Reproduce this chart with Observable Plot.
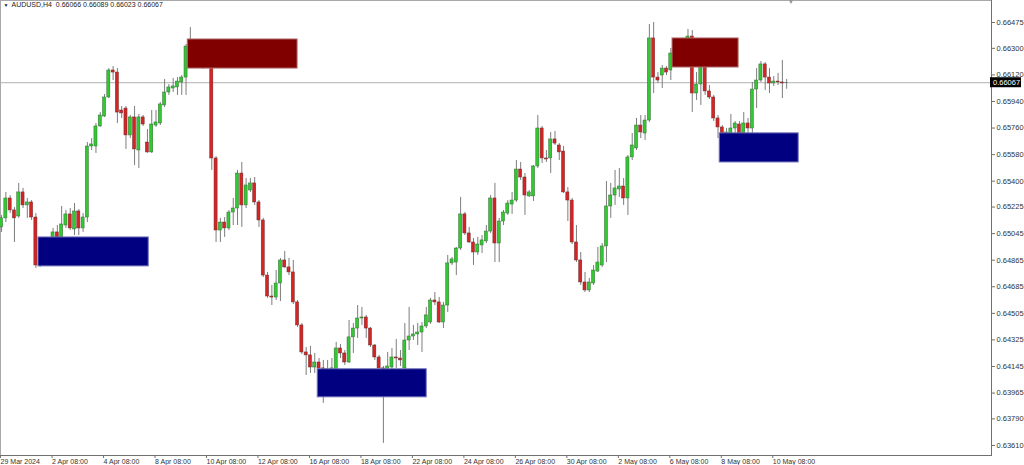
<!DOCTYPE html>
<html><head><meta charset="utf-8">
<script src="https://cdn.jsdelivr.net/npm/d3@7"></script>
<script src="https://cdn.jsdelivr.net/npm/@observablehq/plot@0.6"></script>
<style>body{margin:0;background:#fff;} svg{display:block}</style>
</head><body><div id="chart"></div>
<script>
const symbolTitle = "AUDUSD,H4  0.66066 0.66089 0.66023 0.66067";
const open = [0.65087,0.65148,0.65283,0.65202,0.65161,0.65324,0.65236,0.65256,0.65154,0.64829,
0.64897,0.64944,0.64999,0.65053,0.65019,0.65100,0.65175,0.65073,0.65195,0.65080,
0.65154,0.65635,0.65635,0.65771,0.65838,0.65967,0.66150,0.66136,0.65879,0.65892,
0.65710,0.65832,0.65608,0.65832,0.65662,0.65595,0.65777,0.65791,0.65913,0.66001,
0.66028,0.66035,0.66069,0.66102,0.66312,0.66251,0.66299,0.66272,0.66231,0.66218,
0.65554,0.65066,0.65120,0.65080,0.65188,0.65215,0.65452,0.65236,0.65337,0.65385,
0.65256,0.65134,0.64761,0.64619,0.64612,0.64707,0.64863,0.64816,0.64782,0.64579,
0.64423,0.64240,0.64220,0.64138,0.64172,0.64132,0.64104,0.64104,0.64118,0.64267,
0.64233,0.64172,0.64342,0.64402,0.64470,0.64477,0.64402,0.64287,0.64206,0.64132,
0.64104,0.64138,0.64206,0.64199,0.64132,0.64321,0.64348,0.64362,0.64375,0.64416,
0.64443,0.64592,0.64579,0.64443,0.64558,0.64843,0.64849,0.64944,0.65175,0.65046,
0.64985,0.64917,0.64965,0.64992,0.65059,0.65283,0.64978,0.65127,0.65181,0.65242,
0.65269,0.65479,0.65425,0.65297,0.65297,0.65500,0.65757,0.65554,0.65554,0.65683,
0.65642,0.65601,0.65324,0.65269,0.64985,0.64863,0.64714,0.64660,0.64707,0.64788,
0.64829,0.64958,0.65229,0.65303,0.65344,0.65364,0.65283,0.65561,0.65622,0.65777,
0.65723,0.65811,0.66367,0.66102,0.66116,0.66163,0.66150,0.66265,0.66299,0.66319,
0.66340,0.66380,0.65994,0.66055,0.66184,0.66008,0.65967,0.65825,0.65764,0.65723,
0.65723,0.65757,0.65784,0.65723,0.65791,0.65757,0.66021,0.66082,0.66191,0.66102,
0.66062,0.66075,0.66069,0.66066];
const high = [0.65168,0.65324,0.65303,0.65222,0.65385,0.65351,0.65283,0.65269,0.65181,0.64931,
0.64965,0.65012,0.65080,0.65100,0.65229,0.65202,0.65215,0.65249,0.65208,0.65181,
0.65662,0.65689,0.65791,0.65865,0.65987,0.66163,0.66177,0.66163,0.65906,0.65906,
0.65845,0.65906,0.65852,0.65845,0.65750,0.65879,0.65879,0.65933,0.66089,0.66055,
0.66096,0.66102,0.66116,0.66326,0.66441,0.66353,0.66340,0.66319,0.66285,0.66251,
0.65567,0.65148,0.65154,0.65202,0.65283,0.65473,0.65527,0.65418,0.65418,0.65425,
0.65269,0.65148,0.64782,0.64694,0.64795,0.64877,0.64924,0.64877,0.64863,0.64592,
0.64436,0.64274,0.64281,0.64233,0.64199,0.64186,0.64186,0.64199,0.64308,0.64294,
0.64253,0.64457,0.64436,0.64558,0.64545,0.64491,0.64409,0.64294,0.64220,0.64145,
0.64240,0.64267,0.64328,0.64253,0.64436,0.64545,0.64423,0.64436,0.64443,0.64545,
0.64606,0.64646,0.64612,0.64579,0.64897,0.64883,0.64951,0.65290,0.65188,0.65087,
0.65012,0.65019,0.65032,0.65100,0.65303,0.65385,0.65148,0.65202,0.65269,0.65324,
0.65540,0.65527,0.65452,0.65337,0.65506,0.65845,0.65771,0.65608,0.65730,0.65737,
0.65655,0.65635,0.65357,0.65283,0.65100,0.64917,0.64782,0.64741,0.64829,0.64951,
0.64978,0.65398,0.65385,0.65473,0.65486,0.65418,0.65574,0.65723,0.65825,0.65845,
0.65845,0.66461,0.66475,0.66136,0.66184,0.66177,0.66299,0.66353,0.66353,0.66367,
0.66428,0.66421,0.66136,0.66218,0.66204,0.66048,0.65981,0.65845,0.65777,0.65757,
0.65852,0.65804,0.65804,0.65865,0.65825,0.66069,0.66163,0.66211,0.66204,0.66163,
0.66109,0.66130,0.66218,0.66089];
const low = [0.65053,0.65120,0.65181,0.64985,0.65148,0.65215,0.65148,0.65134,0.64809,0.64816,
0.64849,0.64897,0.64992,0.64999,0.65005,0.65080,0.65066,0.65032,0.65032,0.65053,
0.65120,0.65608,0.65588,0.65764,0.65832,0.65960,0.66082,0.65791,0.65825,0.65615,
0.65689,0.65506,0.65486,0.65771,0.65588,0.65588,0.65764,0.65777,0.65899,0.65981,
0.66001,0.65981,0.65981,0.65981,0.66163,0.66177,0.66170,0.66157,0.66163,0.65473,
0.64985,0.64985,0.65019,0.65066,0.65100,0.65100,0.65087,0.65215,0.65324,0.65236,
0.65087,0.64748,0.64606,0.64558,0.64592,0.64585,0.64809,0.64761,0.64565,0.64409,
0.64226,0.64084,0.64098,0.64098,0.64104,0.63895,0.64050,0.64064,0.64104,0.64199,
0.64152,0.64165,0.64233,0.64335,0.64423,0.64335,0.64274,0.64186,0.64118,0.63624,
0.64064,0.64118,0.64132,0.64145,0.64104,0.64253,0.64321,0.64287,0.64240,0.64402,
0.64430,0.64558,0.64436,0.64402,0.64511,0.64829,0.64761,0.64931,0.65032,0.64978,
0.64829,0.64897,0.64910,0.64978,0.65046,0.64849,0.64849,0.65100,0.65168,0.65175,
0.65256,0.65405,0.65168,0.65290,0.65263,0.65486,0.65520,0.65527,0.65452,0.65642,
0.65540,0.65317,0.65127,0.64971,0.64849,0.64694,0.64646,0.64646,0.64694,0.64782,
0.64816,0.64849,0.65148,0.65236,0.65290,0.65236,0.65168,0.65540,0.65608,0.65689,
0.65676,0.65798,0.65994,0.66062,0.66028,0.66116,0.66082,0.66231,0.66251,0.66272,
0.66299,0.65865,0.65947,0.65913,0.65981,0.65953,0.65804,0.65689,0.65703,0.65676,
0.65676,0.65710,0.65689,0.65676,0.65703,0.65723,0.65892,0.66069,0.66014,0.65994,
0.66042,0.66048,0.65960,0.66023];
const close = [0.65148,0.65283,0.65202,0.65148,0.65324,0.65236,0.65256,0.65154,0.64829,0.64897,
0.64944,0.64999,0.65053,0.65019,0.65107,0.65175,0.65080,0.65195,0.65080,0.65154,
0.65635,0.65649,0.65771,0.65845,0.65967,0.66150,0.66136,0.65865,0.65859,0.65710,
0.65832,0.65615,0.65832,0.65784,0.65595,0.65784,0.65798,0.65920,0.66001,0.66035,
0.66042,0.66075,0.66102,0.66312,0.66251,0.66299,0.66272,0.66231,0.66218,0.65554,
0.65066,0.65120,0.65080,0.65188,0.65215,0.65452,0.65236,0.65371,0.65385,0.65256,
0.65134,0.64761,0.64619,0.64612,0.64707,0.64863,0.64816,0.64782,0.64579,0.64423,
0.64240,0.64220,0.64138,0.64172,0.64132,0.64104,0.64125,0.64132,0.64267,0.64233,
0.64172,0.64342,0.64402,0.64470,0.64477,0.64402,0.64287,0.64206,0.64132,0.64084,
0.64145,0.64206,0.64199,0.64186,0.64321,0.64348,0.64362,0.64375,0.64416,0.64491,
0.64592,0.64579,0.64443,0.64558,0.64843,0.64870,0.64944,0.65175,0.65046,0.64985,
0.64917,0.64971,0.64999,0.65059,0.65283,0.64978,0.65127,0.65188,0.65249,0.65269,
0.65479,0.65425,0.65303,0.65324,0.65500,0.65757,0.65554,0.65547,0.65683,0.65655,
0.65595,0.65324,0.65269,0.64985,0.64863,0.64714,0.64660,0.64714,0.64795,0.64849,
0.64958,0.65229,0.65303,0.65351,0.65364,0.65283,0.65561,0.65642,0.65777,0.65730,
0.65811,0.66367,0.66102,0.66082,0.66163,0.66136,0.66265,0.66299,0.66319,0.66340,
0.66380,0.65994,0.66055,0.66184,0.66008,0.65967,0.65825,0.65764,0.65723,0.65730,
0.65757,0.65791,0.65723,0.65791,0.65757,0.66021,0.66082,0.66191,0.66102,0.66062,
0.66075,0.66069,0.66062,0.66067];

// time axis: bar index of each labelled tick and its label
const xTickBars = [0,12,24,36,48,60,72,84,96,108,120,132,144,156,168,180];
const xTickLabels = ["29 Mar 2024","2 Apr 08:00","4 Apr 08:00","8 Apr 08:00","10 Apr 08:00","12 Apr 08:00",
"16 Apr 08:00","18 Apr 08:00","22 Apr 08:00","24 Apr 08:00","26 Apr 08:00","30 Apr 08:00",
"2 May 08:00","6 May 08:00","8 May 08:00","10 May 08:00"];
// price axis
const yTickValues = [0.66475,0.66300,0.66120,0.65940,0.65760,0.65580,0.65400,0.65225,0.65045,
0.64865,0.64685,0.64505,0.64325,0.64145,0.63965,0.63790,0.63610];
const yTickLabels = ["0.66475","0.66300","0.66120","0.65940","0.65760","0.65580","0.65400","0.65225","0.65045",
"0.64865","0.64685","0.64505","0.64325","0.64145","0.63965","0.63790","0.63610"];
// supply / demand zones (bar index span, price span)
const zoneKind = ["demand","supply","demand","supply","demand"];
const zoneStart = [8.6, 43.4, 73.7, 156.4, 167.4];
const zoneEnd = [34.3, 69.0, 99.1, 171.8, 185.8];
const zoneLow = [0.64823, 0.66163, 0.63936, 0.66170, 0.65527];
const zoneHigh = [0.65019, 0.66360, 0.64126, 0.66367, 0.65724];
const lastPrice = 0.66067;
const lastPriceLabel = "0.66067";
const shiftBar = 184;
const xDomain = [-0.25, 230.75];
const yDomain = [0.63542, 0.66624];

const bars = open.map((o, i) => ({i, open: o, high: high[i], low: low[i], close: close[i]}));
const bull = bars.filter(d => d.close >= d.open);
const bear = bars.filter(d => d.close < d.open);
const zones = zoneKind.map((k, j) => ({kind: k, x1: zoneStart[j], x2: zoneEnd[j], y1: zoneLow[j], y2: zoneHigh[j]}));
const yLabel = new Map(yTickValues.map((v, i) => [v, yTickLabels[i]]));
const xLabel = new Map(xTickBars.map((v, i) => [v, xTickLabels[i]]));
const halfBody = 0.36;

const W = 1024, H = 465, mR = 33, mB = 10;
const chart = Plot.plot({
  width: W, height: H,
  marginTop: 0, marginLeft: 0, marginRight: mR, marginBottom: mB,
  style: {fontFamily: "'Liberation Sans', Arial, sans-serif", background: "#fff", color: "#333", overflow: "visible"},
  x: {type: "linear", domain: xDomain},
  y: {type: "linear", domain: yDomain},
  marks: [
    Plot.frame({stroke: "#a8a8a8"}),
    Plot.ruleY([lastPrice], {stroke: "#b0b0b0", strokeWidth: 1}),
    Plot.ruleX(bars, {x: "i", y1: "low", y2: "high", stroke: "#7d7d7d", strokeWidth: 1}),
    Plot.rect(bull, {x1: d => d.i - halfBody, x2: d => d.i + halfBody, y1: "open", y2: "close",
      fill: "#31c831", stroke: "#3d6b3d", strokeWidth: 0.5}),
    Plot.rect(bear, {x1: d => d.i - halfBody, x2: d => d.i + halfBody, y1: "open", y2: "close",
      fill: "#d42424", stroke: "#6b3030", strokeWidth: 0.5}),
    Plot.rect(zones.filter(z => z.kind === "supply"), {x1: "x1", x2: "x2", y1: "y1", y2: "y2",
      fill: "#800000", stroke: "#b07070", strokeWidth: 1}),
    Plot.rect(zones.filter(z => z.kind === "demand"), {x1: "x1", x2: "x2", y1: "y1", y2: "y2",
      fill: "#000080", stroke: "#7070b8", strokeWidth: 1}),
    Plot.frame({anchor: "right", stroke: "#707070"}),
    Plot.frame({anchor: "bottom", stroke: "#707070"}),
    Plot.axisY(yTickValues, {anchor: "right", tickSize: 3, tickPadding: 2, stroke: "#707070",
      tickFormat: d => yLabel.get(d), fontSize: 7.5, fill: "#333"}),
    Plot.axisX(xTickBars, {anchor: "bottom", tickSize: 3, tickPadding: 1, stroke: "#707070",
      tickFormat: d => xLabel.get(d), textAnchor: "start", dx: -1, fontSize: 7, fill: "#333"}),
    Plot.text([symbolTitle], {frameAnchor: "top-left", dx: 11, dy: 2, fontSize: 7, fill: "#222"}),
    Plot.text(["\u25BC"], {frameAnchor: "top-left", dx: 3, dy: 3, fontSize: 5, fill: "#222"}),
    Plot.text(["\u25BC"], {x: shiftBar, frameAnchor: "top", dy: -1, fontSize: 6, fill: "#909090"})
  ]
});
document.getElementById("chart").appendChild(chart);

// current price badge on the price axis
const yy = chart.scale("y").apply(lastPrice);
const g = d3.select(chart).append("g");
g.append("rect").attr("x", W - mR - 1).attr("y", yy - 5).attr("width", 31).attr("height", 10).attr("fill", "#000");
g.append("text").attr("x", W - mR + 2).attr("y", yy).attr("dy", "0.35em")
  .attr("text-anchor", "start")
  .attr("font-size", 7.5).attr("font-family", "'Liberation Sans', Arial, sans-serif")
  .attr("fill", "#fff").text(lastPriceLabel);
</script>
</body></html>
